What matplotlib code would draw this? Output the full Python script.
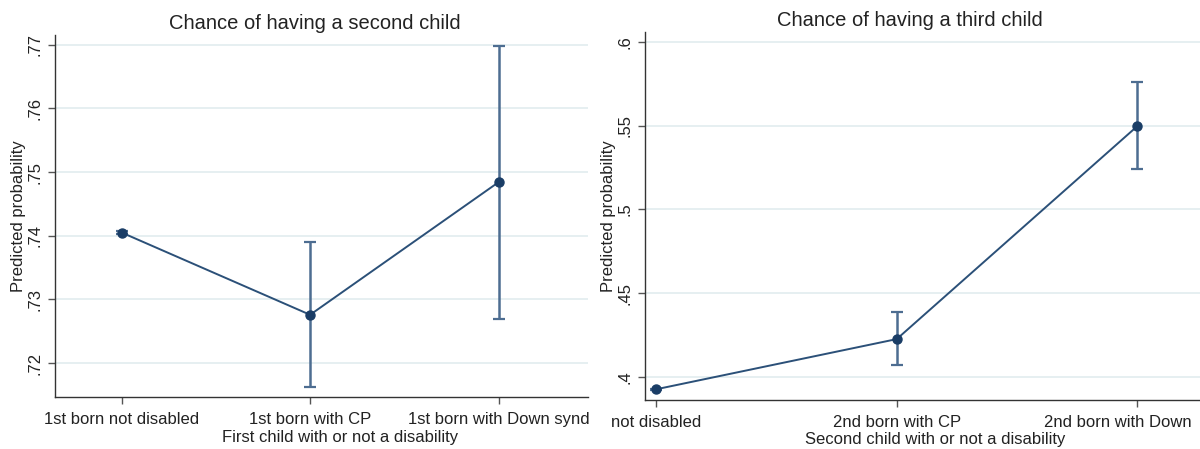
import matplotlib
matplotlib.use("Agg")
import matplotlib.pyplot as plt
from matplotlib.transforms import Bbox, TransformedBbox

# ---- data ----
titles = ["Chance of having a second child", "Chance of having a third child"]
xlabels = ["First child with or not a disability", "Second child with or not a disability"]
cats1 = ["1st born not disabled", "1st born with CP", "1st born with Down synd"]
est1 = [0.7405, 0.7276, 0.7484]
lo1 = [0.7402, 0.7163, 0.7270]
hi1 = [0.7408, 0.7390, 0.7697]
yticks1 = [0.72, 0.73, 0.74, 0.75, 0.76, 0.77]

cats2 = ["not disabled", "2nd born with CP", "2nd born with Down synd"]
est2 = [0.3925, 0.4225, 0.5498]
lo2 = [0.3921, 0.4070, 0.5240]
hi2 = [0.3929, 0.4388, 0.5763]
yticks2 = [0.40, 0.45, 0.50, 0.55, 0.60]

plt.rcParams["font.family"] = ["Liberation Sans", "DejaVu Sans"]

W, H = 1200, 449
fig = plt.figure(figsize=(W / 100, H / 100), dpi=100)

LINE = "#2b5078"
MARK = "#1a3d66"
ERR = "#4d6d91"
GRID = "#e6eff1"


def px_axes(x0, y0, x1, y1):
    return fig.add_axes([x0 / W, 1 - y1 / H, (x1 - x0) / W, (y1 - y0) / H])


def fmt(v):
    s = ("%g" % round(v, 4))
    return s.lstrip("0")


def draw(ax, cats, est, lo, hi, yticks, ylim, xlim, title, title_x, xlabel,
         xlabel_xy, clip_right=None):
    xs = list(range(1, len(cats) + 1))
    for yv in yticks:
        ax.axhline(yv, color=GRID, lw=1.4, zorder=0)
    yerr = [[e - l for e, l in zip(est, lo)], [h - e for e, h in zip(est, hi)]]
    ax.errorbar(xs, est, yerr=yerr, fmt="none", ecolor=ERR, elinewidth=1.8,
                capsize=4, capthick=1.6, zorder=2)
    ax.plot(xs, est, color=LINE, lw=1.4, zorder=3)
    ax.plot(xs, est, "o", color=MARK, ms=6.5, zorder=4)
    ax.set_xlim(*xlim)
    ax.set_ylim(*ylim)
    ax.set_xticks(xs)
    ax.set_xticklabels(cats, fontsize=12, color="#222222")
    ax.set_yticks(yticks)
    ax.set_yticklabels([fmt(v) for v in yticks], fontsize=12, color="#222222",
                       rotation=90, va="center")
    for s in ["top", "right"]:
        ax.spines[s].set_visible(False)
    for s in ["left", "bottom"]:
        ax.spines[s].set_color("#333333")
        ax.spines[s].set_linewidth(1.0)
    ax.tick_params(axis="both", length=5, width=1, color="#555555", pad=4)
    ax.tick_params(axis="x", pad=6)
    ax.set_ylabel("Predicted probability", fontsize=12, color="#222222", labelpad=1)
    ax.set_xlabel(xlabel, fontsize=12, color="#222222")
    ax.xaxis.set_label_coords(*xlabel_xy)
    ax.set_title(title, fontsize=14.5, color="#222222", pad=4, x=title_x)
    if clip_right is not None:
        bb = TransformedBbox(Bbox([[0, 0], [clip_right / W, 1]]), fig.transFigure)
        for lab in ax.get_xticklabels():
            lab.set_clip_box(bb)
            lab.set_clip_on(True)


ax1 = px_axes(55, 35, 588, 397)
draw(ax1, cats1, est1, lo1, hi1, yticks1, (0.7147, 0.7715), (0.646, 3.475),
     titles[0], 0.488, xlabels[0], (0.535, -0.092), clip_right=590)

ax2 = px_axes(645, 32, 1200, 400)
draw(ax2, cats2, est2, lo2, hi2, yticks2, (0.3861, 0.606), (0.954, 3.26),
     titles[1], 0.478, xlabels[1], (0.522, -0.086), clip_right=1196)

fig.savefig("out.png", dpi=100, facecolor="white")
